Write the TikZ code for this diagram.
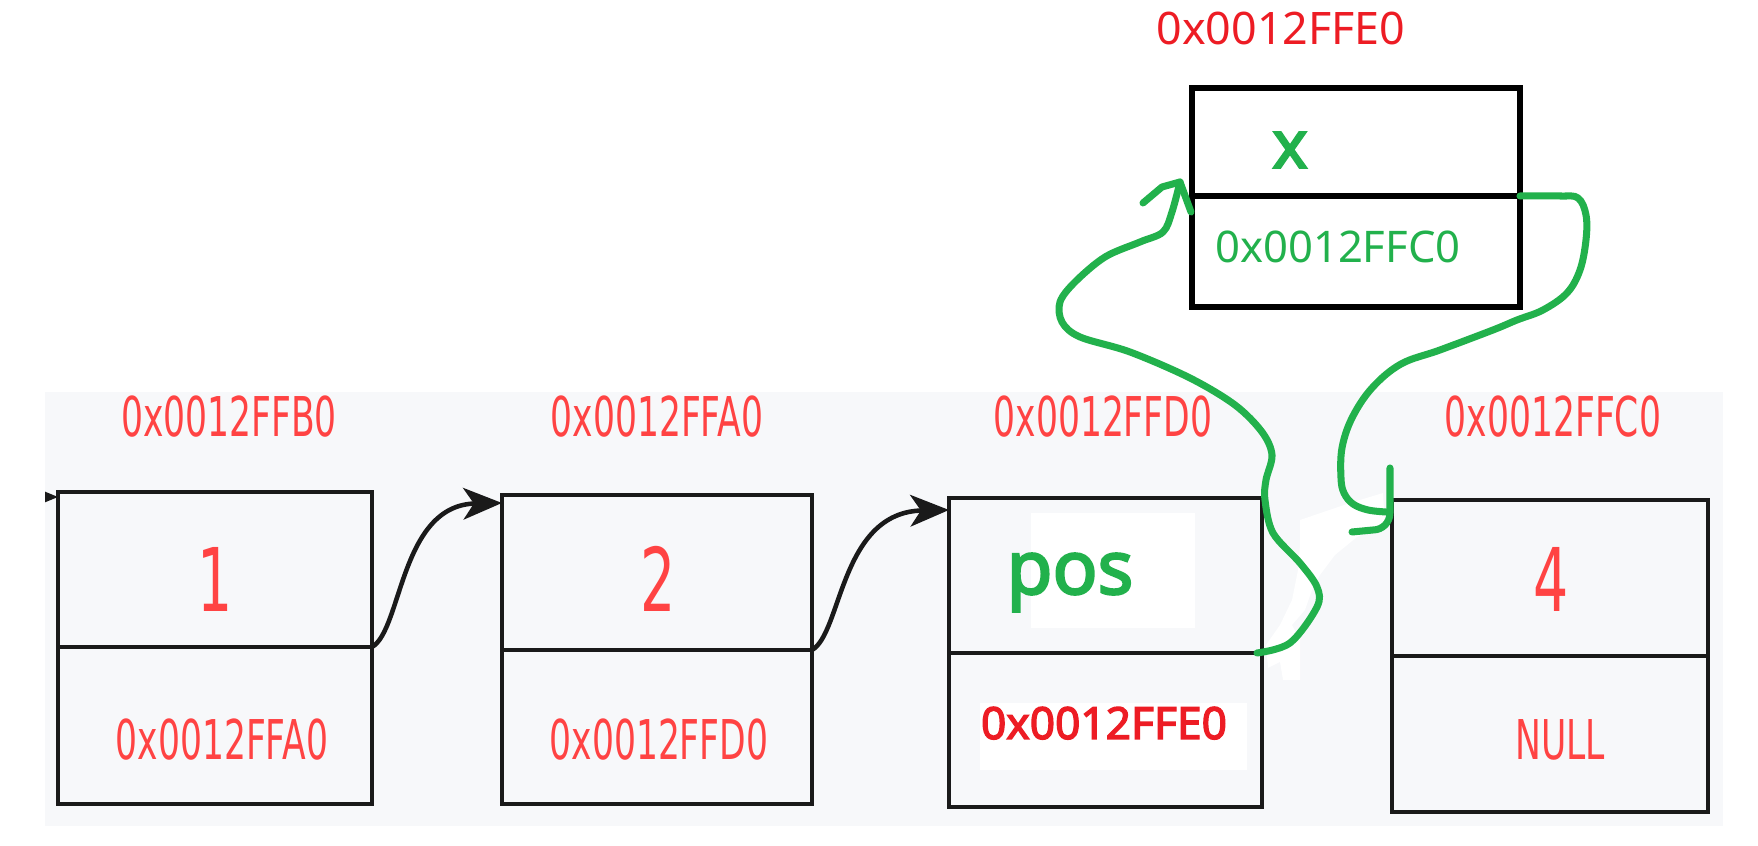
\documentclass[tikz,border=0pt]{standalone}
\usepackage{fontspec}
\setmainfont{Noto Sans}
\newfontfamily\condf[FakeStretch=0.63]{DejaVu Sans}
\newfontfamily\heavyf[FakeBold=3]{Noto Sans}
\usetikzlibrary{arrows.meta,calc}
\definecolor{tred}{HTML}{FF4343}
\definecolor{pred}{HTML}{ED1C24}
\definecolor{pgreen}{HTML}{22B14C}
\definecolor{panelbg}{HTML}{F7F8FA}
\definecolor{edgec}{HTML}{1A1A1A}
\tikzset{
  cell/.style 2 args={draw=edgec, line width=1.4pt, minimum width=#1, minimum height=#2, inner sep=0pt, outer sep=0pt},
  xcell/.style 2 args={draw=black, line width=1.8pt, minimum width=#1, minimum height=#2, inner sep=0pt, outer sep=0pt},
  tlabel/.style={text=tred, font=\condf\fontsize{15.6}{18}\selectfont, anchor=base, inner sep=0pt},
  tdigit/.style={text=tred, font=\condf\fontsize{25}{30}\selectfont, anchor=base, inner sep=0pt},
  blackarrow/.style={draw=edgec, line width=1.3pt, -{Stealth[length=11pt,width=9pt,inset=3pt]}},
  gline/.style={draw=pgreen, line width=2pt, line cap=round, line join=round},
}
\begin{document}
\begin{tikzpicture}[x=0.1mm,y=-0.1mm]
\useasboundingbox (0,0) rectangle (1758,846);
\fill[white] (0,0) rectangle (1758,846);
\fill[panelbg] (45,392) rectangle (1723,826);
% white patches
\fill[white] (1031,513) rectangle (1195,628);
\fill[white] (980,703) rectangle (1247,770);

% tile boxes
\node[cell={31.4mm}{15.5mm}] (b1a) at (215,569.5) {};
\node[cell={31.4mm}{15.7mm}] (b1b) at (215,725.5) {};
\node[cell={31.0mm}{15.5mm}] (b2a) at (657,572.5) {};
\node[cell={31.0mm}{15.4mm}] (b2b) at (657,727) {};
\node[cell={31.3mm}{15.5mm}] (b3a) at (1105.5,575.5) {};
\node[cell={31.3mm}{15.4mm}] (b3b) at (1105.5,730) {};
\node[cell={31.6mm}{15.6mm}] (b4a) at (1550,578) {};
\node[cell={31.6mm}{15.6mm}] (b4b) at (1550,734) {};
% new node
\node[xcell={32.8mm}{10.8mm}] (bxa) at (1356,142) {};
\node[xcell={32.8mm}{11.1mm}] (bxb) at (1356,251.5) {};

% labels above tiles
\node[tlabel] (l1) at (229,437) {0x0012FFB0};
\node[tlabel] (l2) at (657,437) {0x0012FFA0};
\node[tlabel] (l3) at (1103,437) {0x0012FFD0};
\node[tlabel] (l4) at (1553,437) {0x0012FFC0};
% tile contents
\node[tdigit] (v1) at (215,612) {1};
\node[tdigit] (v2) at (658,612) {2};
\node[tdigit] (v4) at (1551,612) {4};
\node[tlabel] (p1) at (222,760) {0x0012FFA0};
\node[tlabel] (p2) at (659,760) {0x0012FFD0};
\node[tlabel] (p4) at (1560,760) {NULL};
\node[text=pgreen, font=\heavyf\fontsize{21.2}{24}\selectfont, anchor=base, inner sep=0pt] (pos) at (1070,594) {pos};
\node[text=pred, font=\heavyf\fontsize{12.6}{15}\selectfont, anchor=base, inner sep=0pt] (p3) at (1104,739) {0x0012FFE0};
% new node texts
\node[text=pred, font=\fontsize{12.75}{15}\selectfont, anchor=base, inner sep=0pt] (lx) at (1281,45) {0x0012FFE0};
\node[text=pgreen, font=\heavyf\fontsize{19}{22}\selectfont, anchor=base, inner sep=0pt] (vx) at (1290,168) {x};
\node[text=pgreen, font=\fontsize{12.4}{15}\selectfont, anchor=base, inner sep=0pt] (px) at (1338,263) {0x0012FFC0};

% black arrows
\begin{scope}
\clip (45,392) rectangle (1723,826);
\coordinate (inleft) at (20,497);
\draw[blackarrow] (inleft) -- ([yshift=-0.5mm]b1a.north west);
\end{scope}
\draw[blackarrow] (b1a.south east) .. controls (402,630) and (400,505) .. ([yshift=-0.8mm]b2a.north west);
\draw[blackarrow] (b2a.south east) .. controls (842,633) and (840,512) .. ([yshift=-1.2mm]b3a.north west);

% white eraser smear
\fill[white] (1300,520) -- (1350,503) -- (1383,493) -- (1385,525) -- (1357,537) -- (1335,555) -- (1320,575) -- (1312,590) -- (1305,610) -- (1292,625) -- (1300,640) -- (1300,680) -- (1283,680) -- (1280,662) -- (1268,668) -- (1266,645) -- (1280,625) -- (1292,600) -- (1298,570) -- (1300,545) -- cycle;

% green hand-drawn connectors
\coordinate (gtip) at (1180,182);
\draw[gline] plot[smooth, tension=0.55] coordinates {([xshift=-0.5mm]b3a.south east) (1290,643) (1317,607) (1317,587) (1300,563) (1273,533) (1265,500) (1266,480) (1272,455) (1262,432) (1235,405) (1190,378) (1130,352) (1080,337) (1062,322) (1060,302) (1075,282) (1105,257) (1140,242) (1163,232) (1172,212) (gtip)};
\draw[gline] (1143,203) -- (1162,187) -- (gtip) -- (1191,212);
\coordinate (jtop) at (1390,468);
\draw[gline] plot[smooth, tension=0.6] coordinates {(bxa.south east) (1560,196) (1578,198) (1586,215) (1586,240) (1580,270) (1567,293) (1543,310) (1517,320) (1493,330) (1440,350) (1401,364) (1372,388) (1352,418) (1342,448) (1341,478) (1344,493) (1353,504) (1368,510) (1386,512)};
\draw[gline] (jtop) -- (1390,513) to[out=-90,in=0] (1373,530) -- (1352,532);
\end{tikzpicture}
\end{document}
